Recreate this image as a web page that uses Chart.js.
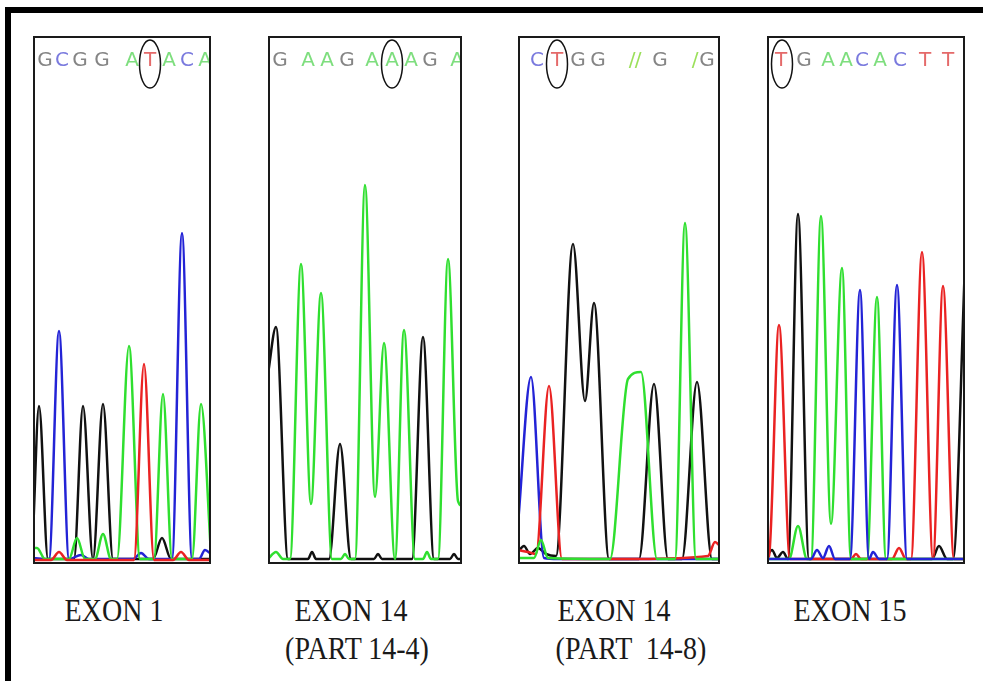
<!DOCTYPE html>
<html>
<head>
<meta charset="utf-8">
<script src="https://cdn.jsdelivr.net/npm/chart.js@4.4.0/dist/chart.umd.min.js"></script>
<style>
  body { margin: 0; background: #fff; width: 983px; height: 681px; overflow: hidden; position: relative; }
  #frame { position: absolute; left: 5px; top: 7px; width: 990px; height: 690px; border-top: 6px solid #000; border-left: 6px solid #000; }
  .panel { position: absolute; top: 36px; }
  .lab { position: absolute; width: 220px; text-align: center; white-space: pre; transform: scaleY(1.12);
         font-family: "Liberation Serif", "Times New Roman", serif; font-size: 28px; line-height: 28px; color: #1a1a1a; }
</style>
</head>
<body>
<div id="frame"></div>
<canvas id="p1" class="panel" style="left:33px"></canvas>
<canvas id="p2" class="panel" style="left:268px"></canvas>
<canvas id="p3" class="panel" style="left:518px"></canvas>
<canvas id="p4" class="panel" style="left:767px"></canvas>
<div class="lab" style="left:4px;top:597px">EXON 1</div>
<div class="lab" style="left:241px;top:597px">EXON 14</div>
<div class="lab" style="left:247px;top:635px">(PART 14-4)</div>
<div class="lab" style="left:504px;top:597px">EXON 14</div>
<div class="lab" style="left:521px;top:635px">(PART  14-8)</div>
<div class="lab" style="left:740px;top:597px">EXON 15</div>
<script>
// trace points: [x px from panel's left edge, signal height]
const exon1A = [[0,16],[4,16],[12,5],[36,5],[44,26],[52,5],[62,5],[70,30],[78,5],[84,5],[96,218],[107,5],[121,5],[130,170],[139,5],[159,5],[168,160],[178,10]];
const exon1C = [[0,6],[16,5],[26,233],[36,5],[48,9],[56,5],[100,5],[108,11],[116,5],[139,5],[149,331],[159,5],[166,5],[172,14],[178,10]];
const exon1G = [[0,30],[6,158],[15,5],[41,5],[50,158],[60,5],[70,160],[80,5],[120,5],[129,26],[138,5],[178,5]];
const exon1T = [[0,4],[18,4],[26,12],[34,4],[101,4],[111,200],[121,4],[140,4],[148,12],[156,4],[178,4]];

const exon14aA = [[0,5],[8,12],[15,5],[22,5],[33,300],[43,60],[53,271],[64,5],[73,5],[77,10],[81,5],[87,5],[97,379],[107,67],[116,221],[127,5],[136,234],[147,5],[155,5],[159,12],[163,5],[170,5],[180,305],[190,63],[194,58]];
const exon14aG = [[0,190],[8,237],[20,5],[40,5],[44,12],[48,5],[61,5],[72,120],[83,5],[106,5],[110,10],[114,5],[144,5],[155,227],[166,5],[182,5],[186,10],[190,5],[194,5]];

const exon14bA = [[0,6],[16,6],[23,24],[30,6],[92,5],[110,185],[123,192],[139,5],[157,5],[167,341],[178,5],[202,5]];
const exon14bC = [[0,40],[13,187],[26,6],[40,5],[202,5]];
const exon14bG = [[0,12],[6,18],[12,10],[20,16],[28,10],[38,8],[55,320],[67,163],[76,261],[91,5],[121,5],[136,180],[150,5],[164,5],[179,182],[194,5],[202,5]];
const exon14bT = [[0,14],[10,12],[18,10],[31,178],[44,5],[120,5],[190,8],[197,22],[202,18]];

const exon15A = [[0,5],[22,5],[31,38],[40,5],[44,5],[54,348],[64,40],[75,296],[84,5],[100,5],[110,267],[119,5],[198,5]];
const exon15C = [[0,5],[44,5],[50,14],[56,6],[62,18],[68,5],[83,5],[93,274],[102,5],[106,12],[112,5],[120,5],[130,279],[140,5],[198,5]];
const exon15G = [[0,8],[5,14],[10,6],[16,12],[21,5],[31,350],[42,5],[165,5],[172,18],[180,5],[186,5],[198,300]];
const exon15T = [[0,6],[2,8],[12,239],[23,5],[84,5],[89,10],[94,5],[125,5],[132,16],[139,5],[144,5],[155,312],[166,5],[176,278],[187,5],[198,5]];

// base calls printed above each trace, and the circled one
const exon1Bases = 'GCGGATACA';
const exon1BaseX = [12,29,47,69,99,117,136,154,172];
const exon1Mark = 117;
const exon14aBases = 'GAAGAAAGA';
const exon14aBaseX = [12,40,59,79,104,124,143,162,189];
const exon14aMark = 124;
const exon14bBases = 'CTGG//G/G';
const exon14bBaseX = [19,39,60,80,114,120,142,177,189];
const exon14bMark = 39;
const exon15Bases = 'TGAACACTT';
const exon15BaseX = [14,37,61,79,95,113,133,158,181];
const exon15Mark = 15;

const traceColor = { A: '#2fdf2f', C: '#2323d6', G: '#111111', T: '#ea2222' };
const letterColor = { A: '#7ede7e', C: '#7a7ade', G: '#858585', T: '#e46a6a', '/': '#9be05a' };
const H = 528;

const seqPlugin = {
  id: 'seq',
  afterDatasetsDraw(chart, args, opts) {
    const { ctx, scales: { x, y } } = chart;
    ctx.save();
    ctx.font = '20px "DejaVu Sans"';
    ctx.textAlign = 'center';
    ctx.textBaseline = 'middle';
    const ty = y.getPixelForValue(H - 25);
    opts.bases.split('').forEach((b, i) => {
      ctx.fillStyle = letterColor[b];
      ctx.fillText(b, x.getPixelForValue(opts.xs[i]), ty);
    });
    ctx.strokeStyle = '#111';
    ctx.lineWidth = 1.5;
    ctx.beginPath();
    ctx.ellipse(x.getPixelForValue(opts.mark), y.getPixelForValue(H - 28), 10.5, 24, 0, 0, Math.PI * 2);
    ctx.stroke();
    ctx.strokeStyle = '#1a1a1a';
    ctx.lineWidth = 2;
    ctx.strokeRect(1, 1, chart.width - 2, chart.height - 2);
    ctx.restore();
  }
};

function panel(id, width, traces, bases, xs, mark) {
  const cv = document.getElementById(id);
  cv.width = width;
  cv.height = H;
  new Chart(cv.getContext('2d'), {
    type: 'line',
    data: {
      datasets: Object.keys(traces).map(b => ({
        label: b,
        data: traces[b].map(p => ({ x: p[0], y: p[1] })),
        borderColor: traceColor[b],
        borderWidth: 2.5,
        pointRadius: 0,
        fill: false,
        cubicInterpolationMode: 'monotone'
      }))
    },
    options: {
      responsive: false,
      animation: false,
      layout: { padding: 0 },
      scales: {
        x: { type: 'linear', min: 0, max: width, display: false },
        y: { min: 0, max: H, display: false }
      },
      plugins: {
        legend: { display: false },
        tooltip: { enabled: false },
        seq: { bases, xs, mark }
      }
    },
    plugins: [seqPlugin]
  });
}

panel('p1', 178, { T: exon1T, A: exon1A, C: exon1C, G: exon1G }, exon1Bases, exon1BaseX, exon1Mark);
panel('p2', 194, { A: exon14aA, G: exon14aG }, exon14aBases, exon14aBaseX, exon14aMark);
panel('p3', 202, { A: exon14bA, T: exon14bT, C: exon14bC, G: exon14bG }, exon14bBases, exon14bBaseX, exon14bMark);
panel('p4', 198, { C: exon15C, A: exon15A, T: exon15T, G: exon15G }, exon15Bases, exon15BaseX, exon15Mark);
</script>
</body>
</html>
